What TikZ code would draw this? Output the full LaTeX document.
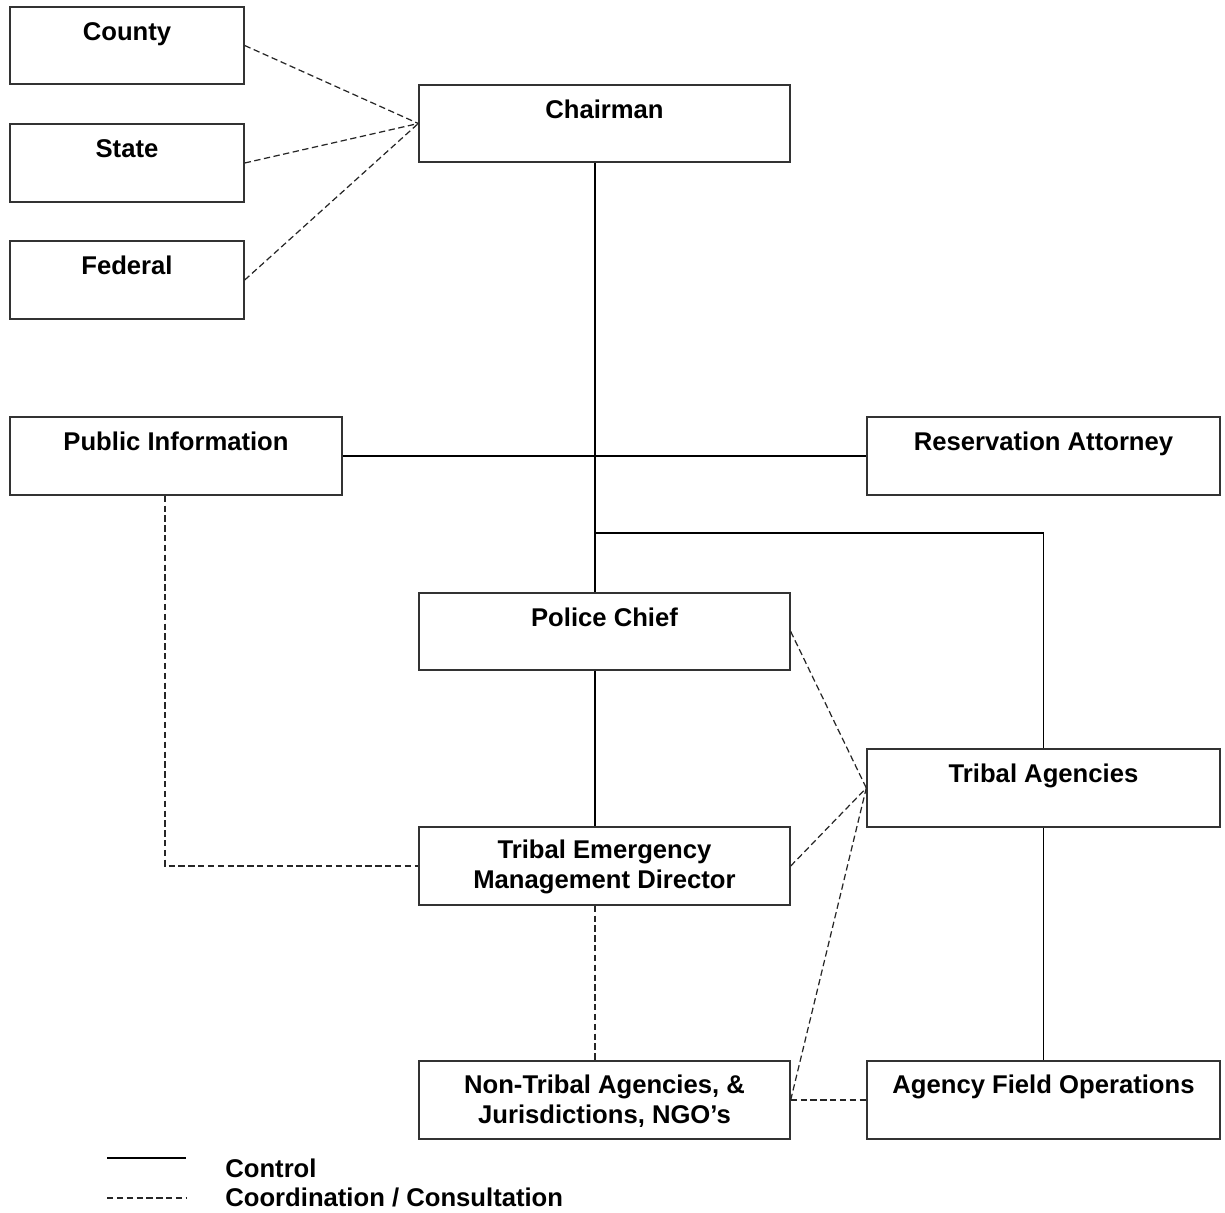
\documentclass[tikz,border=0pt]{standalone}
\usepackage{fontspec}
\setmainfont{Liberation Sans}
\usetikzlibrary{calc}
\begin{document}
\begin{tikzpicture}[x=0.02cm,y=-0.02cm,
  box/.style 2 args={draw=black!80, line width=0.8pt, inner sep=0pt,
    minimum width=#1*0.02cm, minimum height=#2*0.02cm},
  ctrl/.style={line width=0.6pt, black},
  coop/.style={line width=0.7pt, black!85, dash pattern=on 3.6pt off 2pt},
  txt/.style={anchor=base, inner sep=0pt, font=\fontsize{14.6}{17}\selectfont\bfseries},
  legtxt/.style={anchor=base west, inner sep=0pt, font=\fontsize{14.6}{17}\selectfont\bfseries}]
\useasboundingbox (0,0) rectangle (1225,1213);

% boxes
\node[box={234}{77}] (county)   at (127,45.5) {};
\node[box={234}{78}] (state)    at (127,163) {};
\node[box={234}{78}] (federal)  at (127,280) {};
\node[box={371}{77}] (chair)    at (604.5,123.5) {};
\node[box={332}{78}] (pubinfo)  at (176,456) {};
\node[box={353}{78}] (attorney) at (1043.5,456) {};
\node[box={371}{77}] (police)   at (604.5,631.5) {};
\node[box={353}{78}] (tribal)   at (1043.5,788) {};
\node[box={371}{78}] (temd)     at (604.5,866) {};
\node[box={371}{78}] (nontribal) at (604.5,1100) {};
\node[box={353}{78}] (afo)      at (1043.5,1100) {};

% box titles, set near the top edge
\node[txt] (county-t)   at ($(county.north)+(0,34)$) {County};
\node[txt] (state-t)    at ($(state.north)+(0,34)$) {State};
\node[txt] (federal-t)  at ($(federal.north)+(0,34)$) {Federal};
\node[txt] (chair-t)    at ($(chair.north)+(0,34)$) {Chairman};
\node[txt] (pubinfo-t)  at ($(pubinfo.north)+(0,34)$) {Public Information};
\node[txt] (attorney-t) at ($(attorney.north)+(0,34)$) {Reservation Attorney};
\node[txt] (police-t)   at ($(police.north)+(0,34)$) {Police Chief};
\node[txt] (tribal-t)   at ($(tribal.north)+(0,34)$) {Tribal Agencies};
\node[txt] (temd-t1)    at ($(temd.north)+(0,32.5)$) {Tribal Emergency};
\node[txt] (temd-t2)    at ($(temd.north)+(0,62.5)$) {Management Director};
\node[txt] (nontribal-t1) at ($(nontribal.north)+(0,33)$) {Non-Tribal Agencies, \&};
\node[txt] (nontribal-t2) at ($(nontribal.north)+(0,63)$) {Jurisdictions, NGO’s};
\node[txt] (afo-t)      at ($(afo.north)+(0,33)$) {Agency Field Operations};

% main control spine and branches
\coordinate (spine) at (595,0);
\coordinate (branch) at (595,533);
\draw[ctrl] (chair.south -| spine) -- (police.north -| spine);
\draw[ctrl] (pubinfo.east) -- (attorney.west);
\draw[ctrl] (branch) -| (tribal.north);
\draw[ctrl] (police.south -| spine) -- (temd.north -| spine);
\draw[ctrl] (tribal.south) -- (afo.north);

% coordination / consultation
\draw[coop] (county.east) -- (chair.west);
\draw[coop] (state.east) -- (chair.west);
\draw[coop] (federal.east) -- (chair.west);
\draw[coop] ($(pubinfo.south)+(-11,0)$) |- (temd.west);
\draw[coop] (police.east) -- (tribal.west);
\draw[coop] (temd.east) -- (tribal.west);
\draw[coop] (nontribal.east) -- (tribal.west);
\draw[coop] (nontribal.east) -- (afo.west);
\draw[coop] (temd.south -| spine) -- (nontribal.north -| spine);

% legend
\coordinate (l1a) at (107,1158);
\coordinate (l1b) at (186,1158);
\coordinate (l2a) at (107,1198);
\coordinate (l2b) at (186,1198);
\draw[ctrl] (l1a) -- (l1b);
\draw[coop] (l2a) -- (l2b);
\node[legtxt] (leg-ctrl) at (225,1177) {Control};
\node[legtxt] (leg-coop) at (225,1206) {Coordination / Consultation};
\end{tikzpicture}
\end{document}
